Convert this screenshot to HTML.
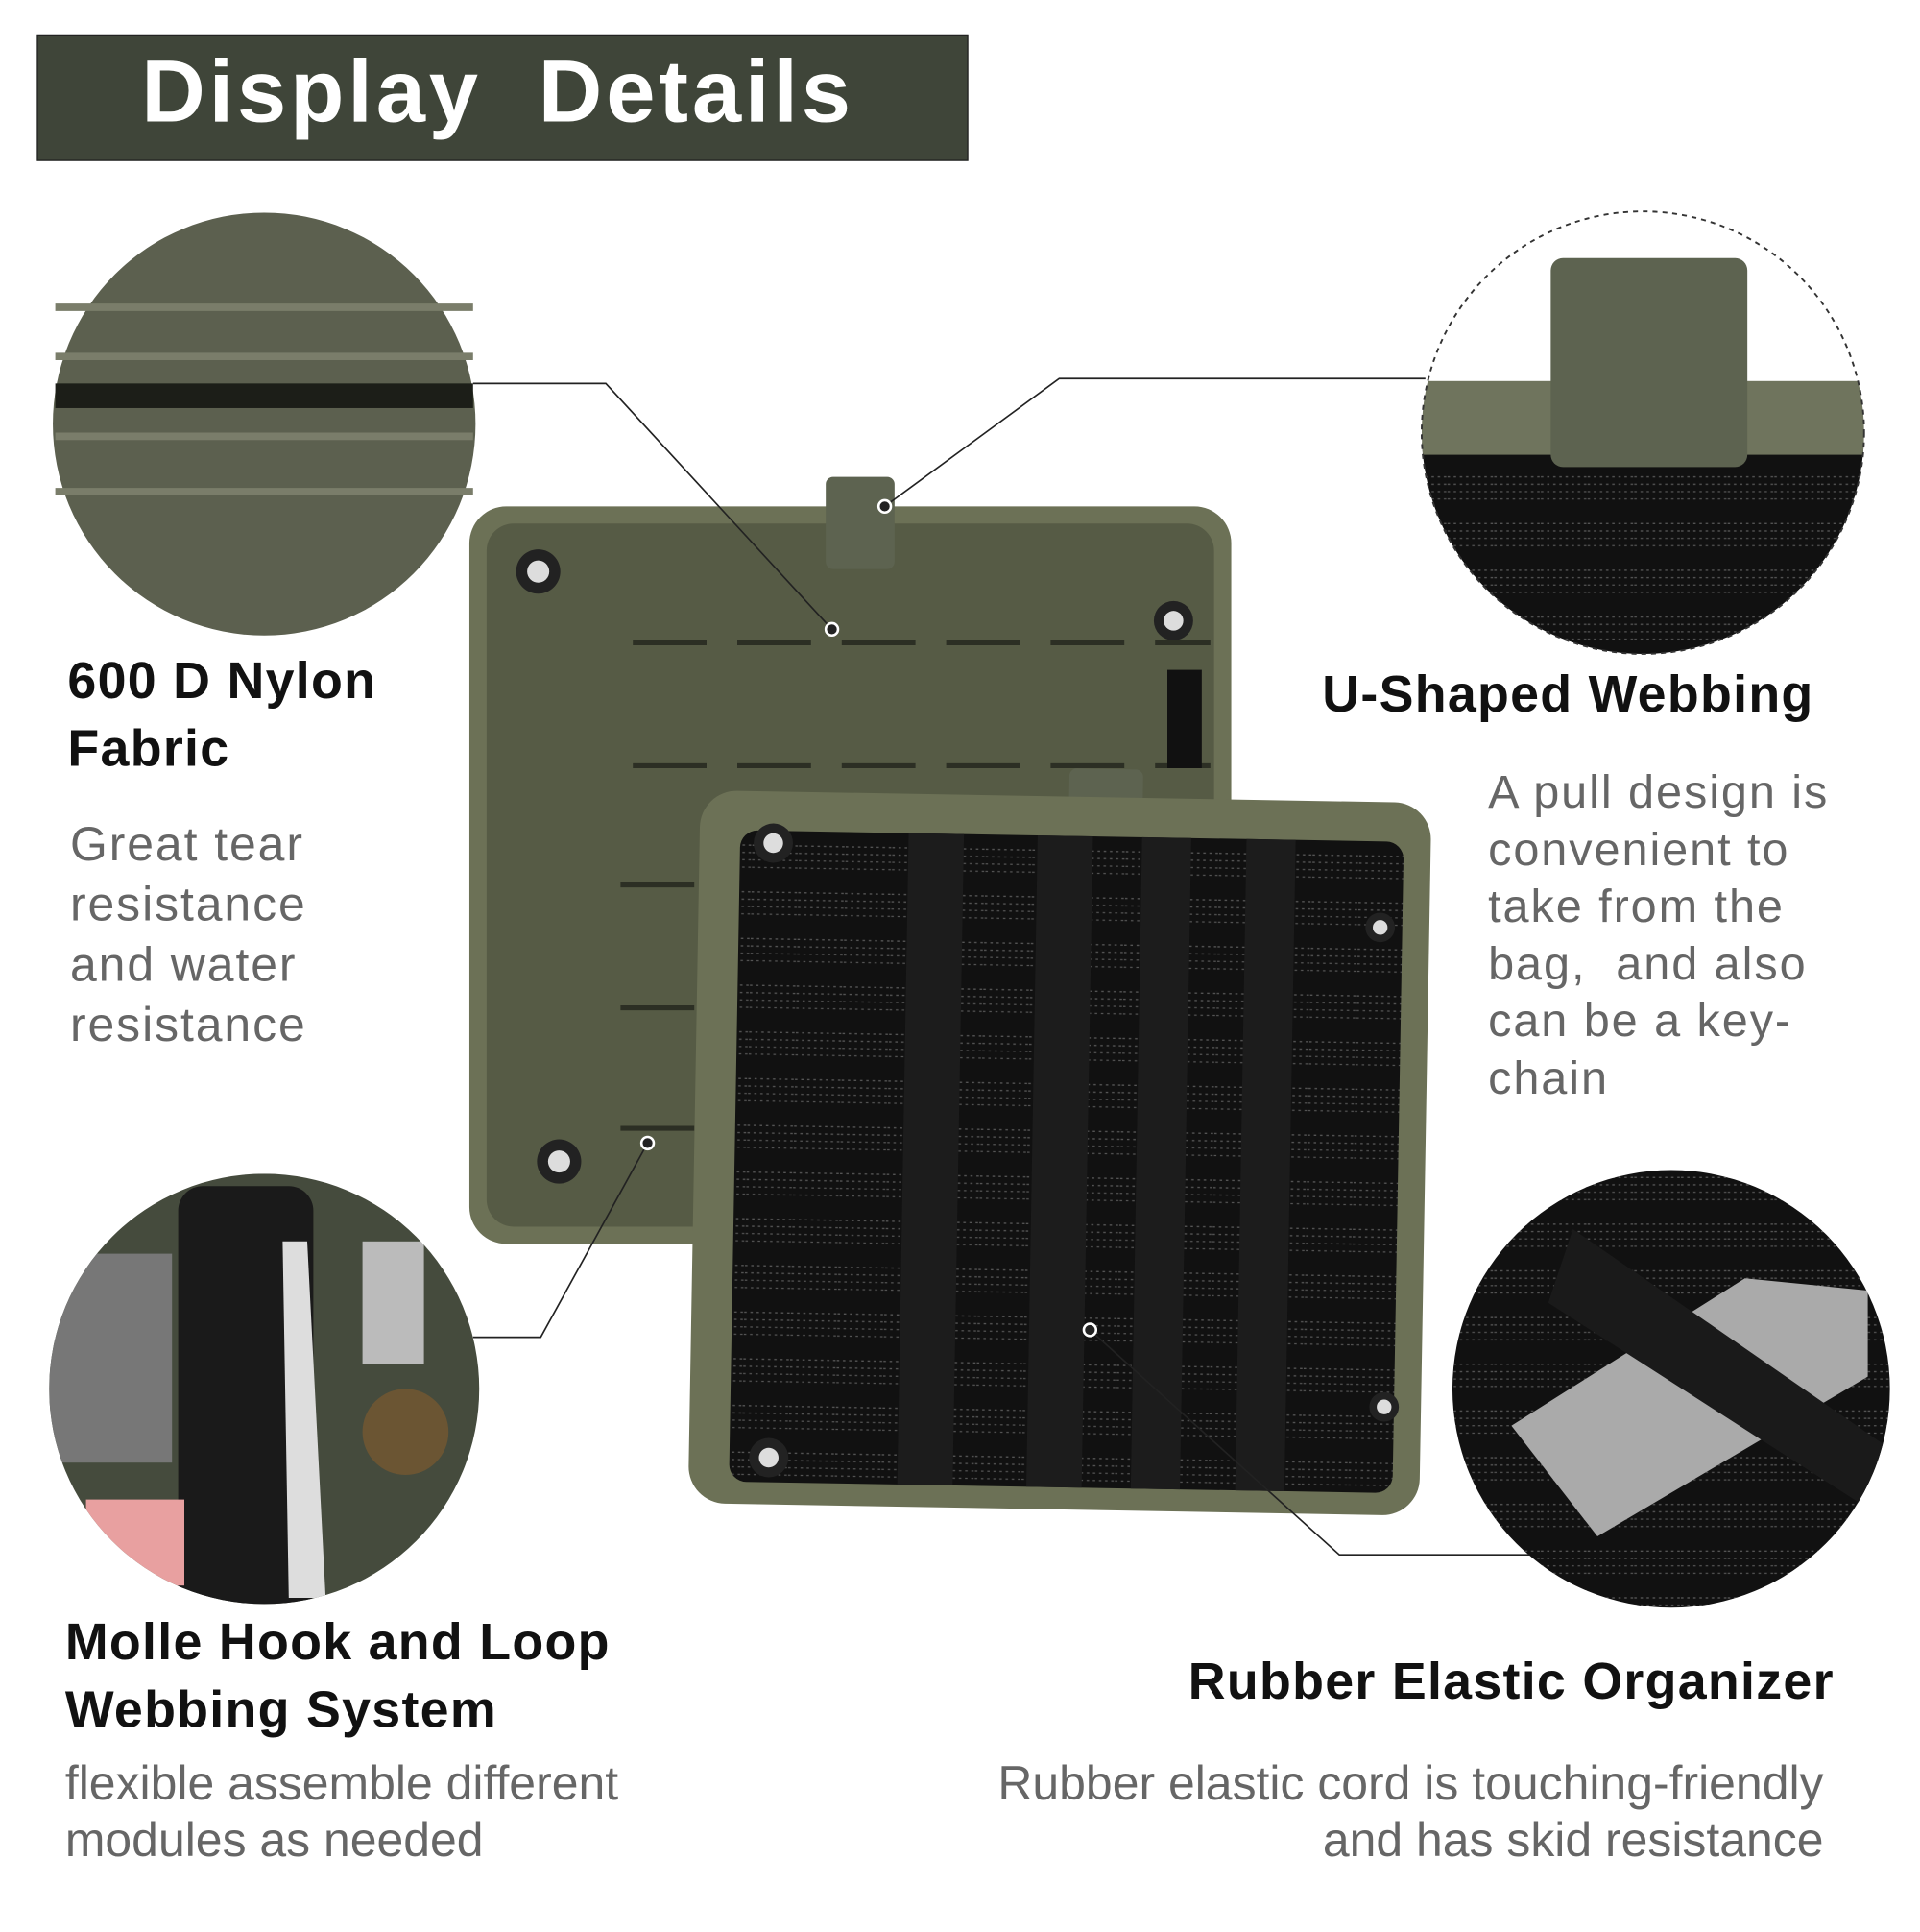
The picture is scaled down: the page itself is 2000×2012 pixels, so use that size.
<!DOCTYPE html>
<html><head><meta charset="utf-8"><style>
html,body{margin:0;padding:0;background:#fff;width:2000px;height:2000px;overflow:hidden}
#s{position:absolute;left:0;top:0;width:1572px;height:1572px;transform:scale(1.28);transform-origin:0 0;font-family:"Liberation Sans",sans-serif}
.t{position:absolute;white-space:nowrap}
.h{font-weight:bold;color:#111;font-size:42px;line-height:55px;letter-spacing:1px}
.g{color:#666;font-size:39px;line-height:49px;letter-spacing:1.5px}
</style></head><body><div id="s">
<div style="position:absolute;left:30px;top:28px;width:756px;height:101px;background:#3f4539;border:1px solid #222"></div>
<div class="t" style="left:115px;top:34px;font-size:72px;font-weight:bold;color:#fff;letter-spacing:3px">Display&nbsp; Details</div>

<svg width="1572" height="1572" style="position:absolute;left:0;top:0">
<defs>
<pattern id="web" width="38" height="38" patternUnits="userSpaceOnUse">
<rect width="38" height="38" fill="#111"/>
<path d="M0 8h38M0 14h38M0 20h38M0 26h38" stroke="#555" stroke-width="1" stroke-dasharray="2 3"/>
</pattern>
</defs>
<circle cx="215" cy="345" r="172" fill="#5c604f"/>
<rect x="45" y="312" width="340" height="20" fill="#1c1e18"/>
<path d="M45 250h340M45 290h340M45 355h340M45 400h340" stroke="#7a7d6a" stroke-width="6"/>
<clipPath id="c2"><circle cx="1337" cy="352" r="180"/></clipPath>
<g clip-path="url(#c2)">
<rect x="1150" y="170" width="380" height="370" fill="#fff"/>
<rect x="1150" y="360" width="380" height="180" fill="url(#web)"/>
<rect x="1150" y="310" width="380" height="60" fill="#6f745d"/>
<rect x="1262" y="210" width="160" height="170" rx="10" fill="#5d6350"/>
</g>
<circle cx="1337" cy="352" r="180" fill="none" stroke="#333" stroke-width="1.5" stroke-dasharray="4 4"/>
<clipPath id="c3"><circle cx="215" cy="1130" r="175"/></clipPath>
<g clip-path="url(#c3)">
<rect x="40" y="955" width="360" height="360" fill="#454b3d"/>
<rect x="40" y="1020" width="100" height="170" fill="#777"/>
<rect x="145" y="965" width="110" height="350" rx="20" fill="#1a1a1a"/>
<path d="M230 1010 L250 1010 L265 1300 L235 1300Z" fill="#ddd"/>
<rect x="295" y="1010" width="50" height="100" fill="#bbb"/>
<circle cx="330" cy="1165" r="35" fill="#6b5533"/>
<rect x="70" y="1220" width="80" height="70" fill="#e8a0a0"/>
</g>
<g>
<rect x="382" y="412" width="620" height="600" rx="30" fill="#6c7156"/>
<rect x="396" y="426" width="592" height="572" rx="22" fill="#565b45"/>
<path d="M515 523h470M515 623h470M505 720h100M505 820h100M505 918h60" stroke="#2c2f24" stroke-width="4" stroke-dasharray="60 25"/>
<circle cx="438" cy="465" r="18" fill="#222"/><circle cx="438" cy="465" r="9" fill="#ddd"/>
<circle cx="955" cy="505" r="16" fill="#222"/><circle cx="955" cy="505" r="8" fill="#ddd"/>
<circle cx="455" cy="945" r="18" fill="#222"/><circle cx="455" cy="945" r="9" fill="#ddd"/>
<rect x="950" y="545" width="28" height="80" fill="#111"/>
</g>
<rect x="672" y="388" width="56" height="75" rx="6" fill="#5d6350"/>
<g transform="rotate(1 860 935)">
<rect x="865" y="625" width="60" height="70" rx="6" fill="#5d6350"/>
<rect x="565" y="648" width="595" height="580" rx="30" fill="#6c7156"/>
<rect x="598" y="680" width="540" height="530" rx="14" fill="url(#web)"/>
<g fill="#1c1c1c"><rect x="735" y="680" width="45" height="530"/><rect x="840" y="680" width="45" height="530"/><rect x="925" y="680" width="40" height="530"/><rect x="1010" y="680" width="40" height="530"/></g>
<circle cx="625" cy="690" r="16" fill="#222"/><circle cx="625" cy="690" r="8" fill="#ddd"/>
<circle cx="1120" cy="750" r="12" fill="#222"/><circle cx="1120" cy="750" r="6" fill="#ddd"/>
<circle cx="1130" cy="1140" r="12" fill="#222"/><circle cx="1130" cy="1140" r="6" fill="#ddd"/>
<circle cx="630" cy="1190" r="16" fill="#222"/><circle cx="630" cy="1190" r="8" fill="#ddd"/>
</g>
<clipPath id="c4"><circle cx="1360" cy="1130" r="178"/></clipPath>
<g clip-path="url(#c4)">
<rect x="1180" y="950" width="360" height="360" fill="url(#web)"/>
<path d="M1230 1160 L1420 1040 L1520 1050 L1520 1120 L1300 1250Z" fill="#aaa"/>
<path d="M1280 1000 L1540 1180 L1540 1240 L1260 1060Z" fill="#1a1a1a"/>
</g>
<g stroke="#222" stroke-width="1.3" fill="none">
<path d="M385 312H493L677 512"/>
<path d="M1160 308H862L720 412"/>
<path d="M385 1088H440L527 930"/>
<path d="M887 1082L1090 1265H1245"/>
</g>
<g fill="#222" stroke="#fff" stroke-width="2">
<circle cx="677" cy="512" r="5"/><circle cx="720" cy="412" r="5"/><circle cx="527" cy="930" r="5"/><circle cx="887" cy="1082" r="5"/>
</g>
</svg>

<div class="t h" style="left:55px;top:526px">600 D Nylon<br>Fabric</div>
<div class="t g" style="left:57px;top:663px">Great tear<br>resistance<br>and water<br>resistance</div>
<div class="t h" style="left:1076px;top:537px">U-Shaped Webbing</div>
<div class="t g" style="left:1211px;top:622px;line-height:46.5px;font-size:38px">A pull design is<br>convenient to<br>take from the<br>bag,&nbsp; and also<br>can be a key-<br>chain</div>
<div class="t h" style="left:53px;top:1308px">Molle Hook and Loop<br>Webbing System</div>
<div class="t g" style="left:53px;top:1429px;letter-spacing:0;line-height:46px">flexible assemble different<br>modules as needed</div>
<div class="t h" style="left:967px;top:1340px">Rubber Elastic Organizer</div>
<div class="t g" style="left:792px;width:692px;top:1429px;text-align:right;letter-spacing:0;line-height:46px">Rubber elastic cord is touching-friendly<br>and has skid resistance</div>
</div></body></html>
